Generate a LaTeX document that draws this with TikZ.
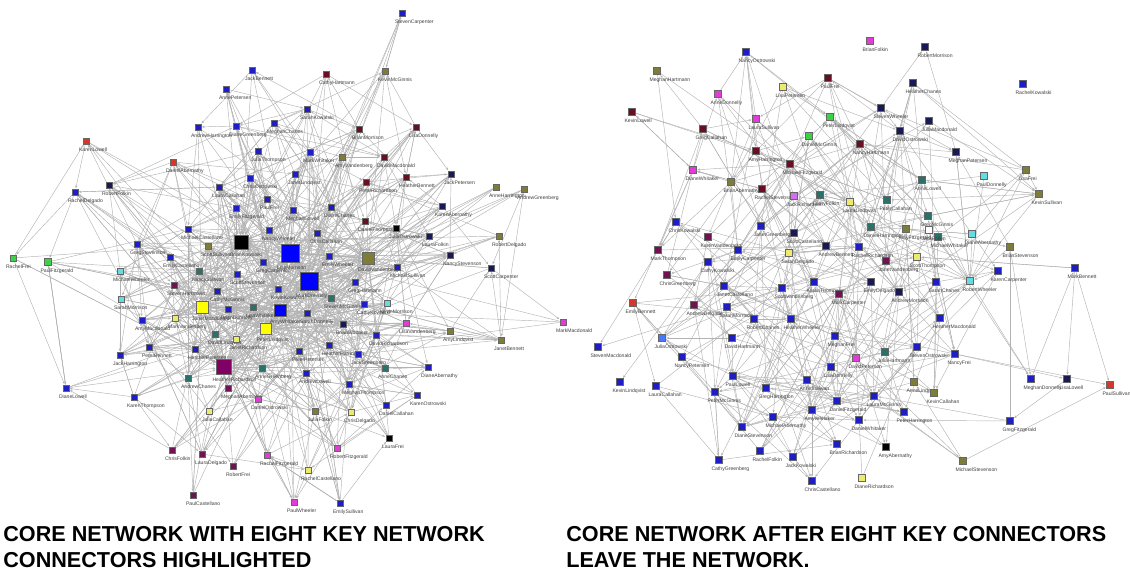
\documentclass[tikz,border=0pt]{standalone}
\usepackage{fontspec}
\setmainfont{Liberation Sans}
\usetikzlibrary{arrows.meta}
\pgfdeclarelayer{bg}
\pgfsetlayers{bg,main}

% node colours
\definecolor{bl}{RGB}{30,30,200}
\definecolor{nv}{RGB}{25,25,90}
\definecolor{hb}{RGB}{0,0,255}
\definecolor{bk}{RGB}{0,0,0}
\definecolor{ol}{RGB}{125,125,55}
\definecolor{ye}{RGB}{255,255,0}
\definecolor{ly}{RGB}{235,235,110}
\definecolor{bp}{RGB}{128,0,100}
\definecolor{pu}{RGB}{110,20,80}
\definecolor{mr}{RGB}{105,15,35}
\definecolor{tl}{RGB}{40,115,105}
\definecolor{cy}{RGB}{100,220,225}
\definecolor{mg}{RGB}{225,60,215}
\definecolor{vi}{RGB}{210,110,240}
\definecolor{gr}{RGB}{60,210,70}
\definecolor{rd}{RGB}{215,55,40}
\definecolor{lb}{RGB}{70,120,255}
\definecolor{wh}{RGB}{255,255,255}

% member names printed under the nodes
\newcommand\firstnm[1]{\ifcase#1 Sarah\or Meghan\or Greg\or Jack\or Emily\or David\or Laura\or Brian\or Karen\or Steven\or Anne\or Michael\or Janet\or Robert\or Lisa\or Daniel\or Cathy\or Andrew\or Nancy\or Peter\or Rachel\or Mark\or Julia\or Kevin\or Diane\or Scott\or Heather\or Paul\or Amy\or Chris\fi}
\newcommand\lastnm[1]{\ifcase#1 Vandenberg\or Chanes\or Frei\or McGinnis\or Richardson\or Thompson\or Wheeler\or Donnelly\or Harrington\or Folkin\or Carpenter\or Macdonald\or Lowell\or Fitzgerald\or Kowalski\or Bennett\or Ostrowski\or Sullivan\or Whitaker\or Greenberg\or Delgado\or Hartmann\or Lindqvist\or Abernathy\or Castellano\or Morrison\or Petersen\or Callahan\or Stevenson\fi}

% draw a tie between two named nodes when they lie closer than #3
\makeatletter
\newcommand\linkifnear[3]{%
  \pgfpointdiff{\pgfpointanchor{#1}{center}}{\pgfpointanchor{#2}{center}}%
  \edef\lkdx{\the\pgf@x}\edef\lkdy{\the\pgf@y}%
  \pgfmathveclen{\lkdx}{\lkdy}%
  \ifdim\pgfmathresult pt>2pt\relax
    \ifdim\pgfmathresult pt<#3\relax
      \draw[link] (#1) -- (#2);%
    \fi
  \fi}
\makeatother

\tikzset{
  sq/.style={rectangle, draw=black!60, line width=0.35pt, inner sep=0pt, fill=#1},
  lbl/.style={inner sep=0pt, font=\fontsize{2.9}{3}\selectfont, text=black!75, anchor=north west},
  link/.style={draw=black!30, line width=0.25pt, -{Stealth[length=1.6pt,width=1.3pt]}, shorten >=0.3pt},
  captext/.style={inner sep=0pt, anchor=base west, font=\fontsize{12.3}{14}\selectfont\bfseries},
}

\begin{document}
\begin{tikzpicture}[x=0.02cm, y=-0.02cm]
\useasboundingbox (0,0) rectangle (1130,569);

% ---------- left network: eight key connectors first ----------
\foreach \px/\py/\c/\s [count=\i] in {
 241/242/bk/14, 290/253/hb/18, 309/281/hb/18, 280/310/hb/12, 368/258/ol/12, 202/307/ye/12, 266/329/ye/11, 224/367/bp/15,
 252/70/bl/6, 226/89/bl/6, 198/127/bl/6, 236/126/bl/6, 274/123/bl/6, 86/141/rd/6, 173/162/rd/6, 258/151/bl/6,
 250/178/bl/6, 219/187/bl/6, 109/185/nv/6, 75/192/bl/6, 267/199/bl/6, 236/208/bl/6, 188/229/bl/6, 269/230/bl/6,
 208/246/ol/6, 137/244/bl/6, 402/13/bl/6, 326/74/mr/6, 385/71/ol/6, 307/109/bl/6, 359/129/mr/6, 416/127/mr/6,
 310/152/bl/6, 342/157/ol/6, 384/157/mr/6, 295/174/bl/6, 366/182/mr/6, 406/177/mr/6, 451/174/nv/6, 496/187/ol/6,
 524/189/ol/6, 331/207/bl/6, 293/210/bl/6, 442/206/nv/6, 365/221/mr/6, 396/228/bk/6, 317/233/bl/6, 429/236/nv/6,
 499/236/ol/6, 13/258/gr/6, 48/262/gr/7, 170/257/bl/6, 120/271/cy/6, 199/271/tl/6, 237/274/bl/6, 263/262/bl/6,
 174/285/pu/6, 217/291/bl/6, 278/289/bl/6, 121/299/cy/6, 228/309/bl/6, 253/307/tl/6, 175/318/ly/6, 142/320/bl/6,
 215/334/tl/6, 236/339/ly/6, 149/347/bl/6, 195/349/bl/6, 120/355/bl/6, 262/368/tl/6, 188/378/tl/6, 66/388/bl/6,
 228/388/pu/6, 134/397/bl/6, 258/399/mg/6, 209/411/ly/6, 172/450/pu/6, 202/454/pu/6, 233/466/pu/6, 267/455/mg/6,
 193/495/pu/6, 329/256/bl/6, 397/267/bl/6, 450/255/nv/6, 491/268/nv/6, 355/282/bl/6, 331/298/tl/6, 364/304/bl/6,
 387/303/cy/6, 307/313/bl/6, 343/324/nv/6, 406/323/mg/6, 563/322/mg/6, 450/331/ol/6, 376/335/bl/6, 501/340/ol/6,
 299/351/bl/6, 329/345/bl/6, 358/354/bl/6, 385/368/tl/6, 306/373/bl/6, 428/367/bl/6, 349/384/bl/6, 417/395/bl/6,
 386/405/bl/6, 315/411/ol/6, 351/412/ly/6, 389/438/bk/6, 337/448/mg/6, 308/470/ly/6, 294/502/mg/6, 340/503/bl/6} {
  \node[sq=\c, minimum size=\s*0.02cm] (L\i) at (\px,\py) {};
  \pgfmathtruncatemacro\fa{mod(\i*7,30)}
  \pgfmathtruncatemacro\la{mod(\i*11+3,29)}
  \node[lbl] (L\i t) at ([shift={(-0.08cm,-0.06cm)}]L\i.south west) {\firstnm{\fa}\lastnm{\la}};
  \xdef\NL{\i}
}

% ---------- right network: the same core without them ----------
% the last two members have no ties left
\foreach \px/\py/\c [count=\i] in {
 746/52/bl, 657/71/ol, 783/87/ly, 828/78/mr, 718/94/mg, 632/112/mr, 756/119/mg, 830/117/gr,
 703/129/mr, 809/136/gr, 756/151/mr, 790/164/mr, 693/170/mg, 731/182/ol, 762/189/mr, 794/196/vi,
 820/195/tl, 676/222/bl, 761/226/bl, 794/233/nv, 708/237/pu, 658/250/pu, 738/250/bl, 826/246/nv,
 789/253/ly, 925/47/nv, 913/83/nv, 881/108/nv, 929/121/nv, 900/131/nv,
 860/144/mr, 956/152/nv, 1026/170/ol, 984/176/cy, 922/180/tl, 1039/194/ol, 850/202/ly, 887/200/tl,
 928/216/tl, 871/227/tl, 906/229/ol, 938/237/tl, 972/234/cy, 1010/247/ol, 859/247/bl, 929/230/wh,
 708/262/bl, 667/275/pu, 724/286/bl, 782/288/bl, 814/282/bl, 839/294/pu, 633/303/rd, 694/305/pu,
 727/307/bl, 754/319/bl, 791/319/bl, 598/347/bl, 662/338/lb, 732/338/bl, 682/357/bl, 835/336/bl,
 831/367/bl, 733/376/bl, 807/380/bl, 620/382/bl, 656/386/bl, 715/392/bl, 766/388/bl, 837/401/bl,
 812/410/bl, 773/417/bl, 742/427/bl, 837/444/bl, 760/451/bl, 793/457/bl, 719/460/bl, 812/481/bl,
 886/261/pu, 917/257/ly, 998/271/bl, 1075/268/bl, 871/282/nv, 899/292/nv, 936/282/bl, 970/281/cy,
 940/318/bl, 917/347/bl, 885/352/tl, 856/358/mg, 955/354/bl, 1031/379/bl, 1067/379/nv, 1110/385/rd,
 914/382/ol, 934/393/ol, 874/396/bl, 904/412/bl, 1010/421/bl, 859/420/bl, 886/447/bk, 963/461/ol,
 862/478/ly, 870/41/mg, 1023/84/bl} {
  \node[sq=\c, minimum size=7*0.02cm] (R\i) at (\px,\py) {};
  \pgfmathtruncatemacro\fa{mod(\i*13+5,30)}
  \pgfmathtruncatemacro\la{mod(\i*5+11,29)}
  \node[lbl] (R\i t) at ([shift={(-0.08cm,-0.06cm)}]R\i.south west) {\firstnm{\fa}\lastnm{\la}};
  \xdef\NR{\i}
}
\pgfmathtruncatemacro\NRtied{\NR-2}

% ---------- ties ----------
\begin{pgfonlayer}{bg}
  \pgfmathsetseed{11}
  % left: local ties
  \foreach \i in {1,...,\NL} {
    \foreach \k in {1,...,11} {
      \pgfmathrandominteger{\j}{1}{\NL}
      \linkifnear{L\i}{L\j}{88pt}
    }
  }
  % left: extra short ties that fill the dense core
  \foreach \i in {1,...,\NL} {
    \foreach \k in {1,...,10} {
      \pgfmathrandominteger{\j}{1}{\NL}
      \linkifnear{L\i}{L\j}{55pt}
    }
  }
  % left: spokes into the key connectors
  \foreach \i in {9,...,\NL} {
    \foreach \k in {1,2,3} {
      \pgfmathrandominteger{\h}{1}{8}
      \draw[link] (L\i) -- (L\h);
    }
  }
  \foreach \a/\b in {1/2,2/3,3/4,4/7,7/8,8/6,6/1,5/3,5/2,1/4,6/7,3/8}
    \draw[link] (L\a) -- (L\b);
  % right: local ties
  \foreach \i in {1,...,\NRtied} {
    \foreach \k in {1,...,10} {
      \pgfmathrandominteger{\j}{1}{\NRtied}
      \linkifnear{R\i}{R\j}{100pt}
    }
  }
\end{pgfonlayer}

% ---------- captions ----------
\node[captext] (capL1) at (3,541) {CORE NETWORK WITH EIGHT KEY NETWORK};
\node[captext] (capL2) at (3,567) {CONNECTORS HIGHLIGHTED};
\node[captext] (capR1) at (566,541) {CORE NETWORK AFTER EIGHT KEY CONNECTORS};
\node[captext] (capR2) at (566,567) {LEAVE THE NETWORK.};
\end{tikzpicture}
\end{document}
